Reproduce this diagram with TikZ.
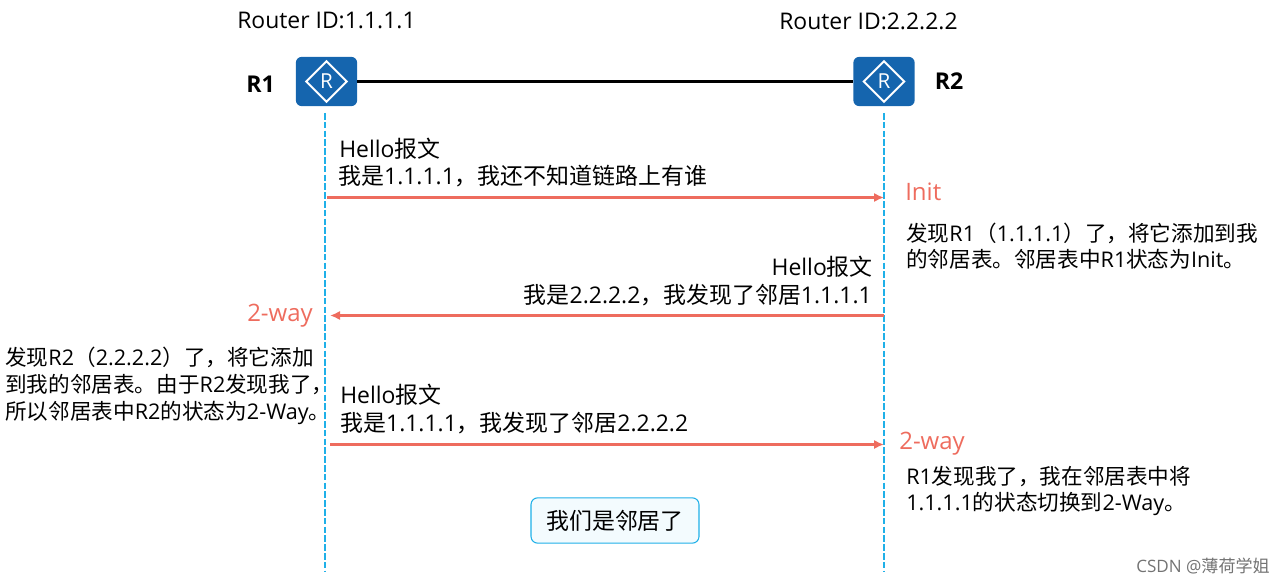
\documentclass[tikz,border=0pt]{standalone}
\usepackage{fontspec}
\setmainfont{Open Sans}
\newfontfamily\cjk{Noto Sans CJK SC}
\usetikzlibrary{shapes.geometric,arrows.meta}
\definecolor{salmon}{HTML}{EE6C5E}
\definecolor{lifeblue}{HTML}{1FB0E8}
\definecolor{routerblue}{HTML}{1565AE}
\definecolor{boxfill}{HTML}{F3FBFE}
\newcommand{\zh}[1]{{\cjk #1}}
\begin{document}
\begin{tikzpicture}[x=0.75pt,y=-0.75pt,
  router/.style = {fill=routerblue, rounded corners=4.5pt, minimum width=46pt, minimum height=37pt, inner sep=0pt},
  rhomb/.style = {draw=white, line width=1.5pt, diamond, minimum width=31pt, minimum height=31pt, inner sep=0pt},
  rlabel/.style = {text=white, inner sep=0pt, font=\fontsize{15.5pt}{16pt}\selectfont},
  life/.style = {draw=lifeblue, line width=1.5pt, dash pattern=on 5pt off 1.6pt},
  msg/.style = {draw=salmon, line width=2.1pt, -{Latex[length=7.5pt,width=7pt]}},
  big/.style = {anchor=base west, inner sep=0pt, font=\fontsize{17.2pt}{20pt}\selectfont},
  small/.style = {anchor=base west, inner sep=0pt, font=\fontsize{16.2pt}{18pt}\selectfont},
  state/.style = {anchor=base west, inner sep=0pt, text=salmon, font=\fontsize{18pt}{20pt}\selectfont}]
\useasboundingbox (0,0) rectangle (1286,585);
\node[router](r1) at (326.5,81.5) {}; \node[rhomb] at (326.5,81.5) {}; \node[rlabel](r1r) at (326.5,81.5) {R};
\node[router](r2) at (884,81.5) {}; \node[rhomb] at (884,81.5) {}; \node[rlabel](r2r) at (884,81.5) {R};
\draw [line width=1.7pt] (r1) -- (r2);
\node[big](id1) at (237,29) {Router ID:1.1.1.1}; \node[big](id2) at (779,30) {Router ID:2.2.2.2};
\node[big, font=\fontsize{17.35pt}{20pt}\selectfont\bfseries](n1) at (246,93) {R1}; \node[big, font=\fontsize{17.35pt}{20pt}\selectfont\bfseries](n2) at (934.5,90) {R2};
\coordinate (top1) at (324.5,113); \coordinate (bot1) at (324.5,572); \coordinate (top2) at (884,113); \coordinate (bot2) at (884,572);
\draw [life] (top1) -- (bot1); \draw [life] (top2) -- (bot2);
\coordinate (a1) at (327,197.5); \coordinate (a2) at (884,197.5); \coordinate (b1) at (884,315.5); \coordinate (b2) at (330,315.5); \coordinate (c1) at (330,444.5); \coordinate (c2) at (884,444.5);
\draw [msg] (a1) -- (a2); \draw [msg] (b1) -- (b2); \draw [msg] (c1) -- (c2);
% first hello
\node[big](h1) at (339,157) {Hello\zh{报文}}; \node[big](h1b) at (338,185) {\zh{我是}1.1.1.1\zh{，我还不知道链路上有谁}};
% second hello
\node[big, anchor=base east](h2) at (873,275) {Hello\zh{报文}}; \node[big, anchor=base east](h2b) at (872,303) {\zh{我是}2.2.2.2\zh{，我发现了邻居}1.1.1.1};
% third hello
\node[big](h3) at (340,403) {Hello\zh{报文}}; \node[big](h3b) at (340,431) {\zh{我是}1.1.1.1\zh{，我发现了邻居}2.2.2.2};
\node[state](s1) at (905,200) {Init}; \node[state](s2) at (247,321) {2-way}; \node[state](s3) at (899,449) {2-way};
\node[small](t1) at (906,241) {\zh{发现}R1\zh{（}1.1.1.1\zh{）了，将它添加到我}}; \node[small](t1b) at (906,267) {\zh{的邻居表。邻居表中}R1\zh{状态为}Init\zh{。}};
\node[small](t2) at (5,365) {\zh{发现}R2\zh{（}2.2.2.2\zh{）了，将它添加}}; \node[small](t2b) at (5,392) {\zh{到我的邻居表。由于}R2\zh{发现我了，}}; \node[small](t2c) at (5,419) {\zh{所以邻居表中}R2\zh{的状态为}2-Way\zh{。}};
\node[small](t3) at (906,484) {R1\zh{发现我了，我在邻居表中将}}; \node[small](t3b) at (906,510) {1.1.1.1\zh{的状态切换到}2-Way\zh{。}};
\node[draw=lifeblue, fill=boxfill, line width=0.8pt, rounded corners=5pt, minimum width=126pt, minimum height=34pt, inner sep=0pt, font=\fontsize{17.2pt}{20pt}\selectfont](nb) at (615,520.5) {\zh{我们是邻居了}};
\node[anchor=base east, inner sep=0pt, text=black!55, font=\fontsize{12.8pt}{14pt}\selectfont](wm) at (1270,572) {CSDN @\zh{薄荷学姐}};
\end{tikzpicture}
\end{document}
